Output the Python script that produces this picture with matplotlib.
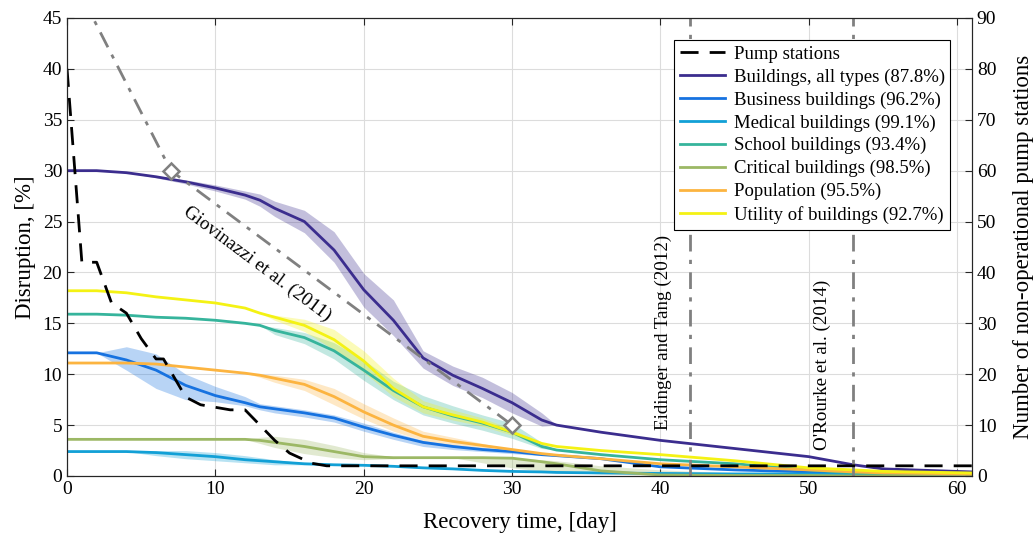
import matplotlib
matplotlib.use("Agg")
import matplotlib.pyplot as plt

plt.rcParams["font.family"] = ["Liberation Serif", "DejaVu Serif"]
plt.rcParams["mathtext.fontset"] = "stix"

# ---- data ----
days = [0, 2, 4, 6, 8, 10, 12, 13, 14, 16, 18, 20, 22, 24, 26, 28, 30, 32, 33,
        36, 40, 45, 50, 53, 55, 61]

bld_all = [30.0, 30.0, 29.8, 29.4, 28.9, 28.3, 27.6, 27.1, 26.3, 25.0, 22.2, 18.3, 15.3,
           11.6, 9.9, 8.6, 7.2, 5.5, 5.0, 4.3, 3.5, 2.7, 1.9, 1.1, 0.7, 0.4]
bld_all_lo = [30.0, 30.0, 29.8, 29.3, 28.7, 28.0, 27.2, 26.5, 25.5, 23.9, 21.0, 16.6, 13.8,
              10.6, 8.9, 7.7, 6.2, 4.9, 5.0, 4.3, 3.5, 2.7, 1.9, 1.1, 0.7, 0.4]
bld_all_hi = [30.0, 30.0, 29.8, 29.5, 29.1, 28.6, 28.0, 27.7, 27.0, 26.1, 24.0, 19.9, 17.3,
              12.3, 10.8, 9.7, 8.2, 6.2, 5.0, 4.3, 3.5, 2.7, 1.9, 1.1, 0.7, 0.4]

business = [12.1, 12.1, 11.4, 10.4, 8.9, 7.9, 7.2, 6.8, 6.6, 6.2, 5.7, 4.8, 4.0,
            3.3, 2.9, 2.6, 2.4, 2.1, 2.0, 1.7, 0.9, 0.6, 0.4, 0.3, 0.2, 0.1]
business_lo = [12.1, 12.1, 10.4, 8.6, 7.5, 7.3, 6.9, 6.5, 6.2, 5.8, 5.3, 4.4, 3.6,
               2.9, 2.6, 2.4, 2.2, 2.0, 2.0, 1.7, 0.9, 0.6, 0.4, 0.3, 0.2, 0.1]
business_hi = [12.1, 12.1, 12.7, 12.0, 10.0, 8.8, 7.8, 7.1, 6.9, 6.5, 6.0, 5.2, 4.3,
               3.5, 3.1, 2.8, 2.6, 2.2, 2.0, 1.7, 0.9, 0.6, 0.4, 0.3, 0.2, 0.1]

medical = [2.4, 2.4, 2.4, 2.3, 2.1, 1.9, 1.6, 1.5, 1.4, 1.2, 1.1, 1.05, 0.95,
           0.8, 0.7, 0.55, 0.45, 0.4, 0.35, 0.3, 0.25, 0.2, 0.2, 0.15, 0.15, 0.1]
medical_lo = [2.4, 2.4, 2.4, 2.0, 1.7, 1.5, 1.3, 1.2, 1.1, 1.1, 1.1, 1.05, 0.95,
              0.8, 0.7, 0.55, 0.45, 0.4, 0.35, 0.3, 0.25, 0.2, 0.2, 0.15, 0.15, 0.1]
medical_hi = [2.4, 2.4, 2.4, 2.5, 2.5, 2.3, 2.0, 1.8, 1.6, 1.3, 1.1, 1.05, 0.95,
              0.8, 0.7, 0.55, 0.45, 0.4, 0.35, 0.3, 0.25, 0.2, 0.2, 0.15, 0.15, 0.1]

school = [15.9, 15.9, 15.8, 15.6, 15.5, 15.3, 15.0, 14.8, 14.3, 13.6, 12.3, 10.4, 8.4,
          6.8, 5.9, 5.2, 4.3, 2.9, 2.55, 2.1, 1.6, 1.2, 0.6, 0.3, 0.2, 0.1]
school_lo = [15.9, 15.9, 15.8, 15.6, 15.5, 15.3, 15.0, 14.8, 13.9, 13.0, 11.5, 9.4, 7.5,
             6.0, 5.2, 4.5, 3.7, 2.7, 2.55, 2.1, 1.6, 1.2, 0.6, 0.3, 0.2, 0.1]
school_hi = [15.9, 15.9, 15.8, 15.6, 15.5, 15.3, 15.0, 14.8, 14.6, 14.1, 13.1, 11.4, 9.3,
             7.9, 6.9, 6.0, 5.2, 3.3, 2.55, 2.1, 1.6, 1.2, 0.6, 0.3, 0.2, 0.1]

critical = [3.6, 3.6, 3.6, 3.6, 3.6, 3.6, 3.6, 3.5, 3.3, 2.9, 2.4, 1.9, 1.8,
            1.8, 1.8, 1.8, 1.75, 1.4, 1.2, 0.5, 0.1, 0.05, 0.05, 0.0, 0.0, 0.0]
critical_lo = [3.6, 3.6, 3.6, 3.6, 3.6, 3.6, 3.6, 3.2, 2.8, 2.2, 1.8, 1.6, 1.7,
               1.8, 1.8, 1.3, 0.8, 0.5, 0.4, 0.2, 0.05, 0.0, 0.0, 0.0, 0.0, 0.0]
critical_hi = [3.6, 3.6, 3.6, 3.6, 3.6, 3.6, 3.6, 3.8, 3.9, 3.6, 3.0, 2.3, 1.9,
               1.8, 1.8, 1.85, 1.8, 1.6, 1.5, 1.0, 0.6, 0.3, 0.1, 0.0, 0.0, 0.0]

population = [11.1, 11.1, 11.1, 11.0, 10.7, 10.4, 10.1, 9.9, 9.6, 9.0, 7.8, 6.3, 5.0,
              3.9, 3.4, 3.0, 2.6, 2.2, 2.05, 1.7, 1.2, 0.9, 0.6, 0.4, 0.3, 0.2]
population_lo = [11.1, 11.1, 11.1, 11.0, 10.7, 10.4, 10.1, 9.7, 9.2, 8.4, 7.0, 5.6, 4.4,
                 3.5, 3.1, 2.8, 2.6, 2.2, 2.05, 1.7, 1.2, 0.9, 0.6, 0.4, 0.3, 0.2]
population_hi = [11.1, 11.1, 11.1, 11.0, 10.7, 10.4, 10.1, 10.0, 9.9, 9.5, 8.6, 7.1, 5.7,
                 4.4, 3.8, 3.2, 2.6, 2.2, 2.05, 1.7, 1.2, 0.9, 0.6, 0.4, 0.3, 0.2]

utility = [18.2, 18.2, 18.0, 17.6, 17.3, 17.0, 16.5, 16.0, 15.6, 14.8, 13.4, 11.3, 8.6,
           6.8, 6.0, 5.3, 4.3, 3.2, 2.9, 2.5, 2.1, 1.5, 0.8, 0.6, 0.45, 0.3]
utility_lo = [18.2, 18.2, 18.0, 17.6, 17.3, 17.0, 16.5, 16.0, 15.3, 14.2, 12.4, 10.2, 7.8,
              6.2, 5.5, 4.9, 4.0, 3.2, 2.9, 2.5, 2.1, 1.5, 0.8, 0.6, 0.45, 0.3]
utility_hi = [18.2, 18.2, 18.0, 17.6, 17.3, 17.0, 16.5, 16.0, 15.8, 15.4, 14.4, 12.3, 9.6,
              7.4, 6.5, 5.7, 4.6, 3.2, 2.9, 2.5, 2.1, 1.5, 0.8, 0.6, 0.45, 0.3]

pump_days = [0, 1, 2, 3, 4, 5, 6, 6.5, 8, 9, 11, 12, 13, 14, 15, 16.5, 17.5, 61]
pump_count = [80, 42, 42, 34, 32, 27, 23, 23, 15.5, 14, 13, 13, 10, 7, 4.5, 2.5, 2, 2]

giov_days = [0, 7, 30]
giov_vals = [50, 30, 5]
ref_days = [42, 53]

series = [
    ("Buildings, all types (87.8%)", bld_all, bld_all_lo, bld_all_hi, "#3b2d8e"),
    ("Business buildings (96.2%)", business, business_lo, business_hi, "#1672e0"),
    ("Medical buildings (99.1%)", medical, medical_lo, medical_hi, "#12a0d6"),
    ("School buildings (93.4%)", school, school_lo, school_hi, "#36b49c"),
    ("Critical buildings (98.5%)", critical, critical_lo, critical_hi, "#9cb865"),
    ("Population (95.5%)", population, population_lo, population_hi, "#fcb440"),
    ("Utility of buildings (92.7%)", utility, utility_lo, utility_hi, "#f4f214"),
]

FS_TICK = 14
FS_LABEL = 16.5
FS_NOTE = 13.7
FS_LEG = 13.5
DASHDOT = (0, (6, 3, 1.5, 3))

fig = plt.figure(figsize=(10.36, 5.37), dpi=100)
ax = fig.add_axes([0.0647, 0.1136, 0.8735, 0.8529])
ax.set_axisbelow(True)
ax.grid(True, color="#dcdcdc", lw=0.8)

# bands first, then lines
for name, vals, lo, hi, col in series:
    ax.fill_between(days, lo, hi, color=col, alpha=0.3, lw=0)
handles = []
for name, vals, lo, hi, col in series:
    h, = ax.plot(days, vals, color=col, lw=2, label=name)
    handles.append(h)

# literature references
ax.plot(giov_days, giov_vals, color="gray", lw=2, ls=DASHDOT,
        marker="D", markevery=[1, 2], ms=8, mfc="white", mec="gray", mew=1.8)
for d in ref_days:
    ax.axvline(d, color="gray", lw=2, ls=DASHDOT)

ax.text(12.8, 20.8, "Giovinazzi et al. (2011)", rotation=-36.8, fontsize=FS_NOTE,
        ha="center", va="center", rotation_mode="anchor")
ax.text(40.2, 4.5, "Eidinger and Tang (2012)", rotation=90, fontsize=FS_NOTE,
        ha="center", va="bottom")
ax.text(50.9, 2.55, "O'Rourke et al. (2014)", rotation=90, fontsize=FS_NOTE,
        ha="center", va="bottom")

ax.set_xlim(0, 61)
ax.set_ylim(0, 45)
ax.set_xticks(range(0, 61, 10))
ax.set_yticks(range(0, 46, 5))
ax.set_xlabel("Recovery time, [day]", fontsize=FS_LABEL, labelpad=10)
ax.set_ylabel("Disruption, [%]", fontsize=FS_LABEL, labelpad=5)
ax.tick_params(direction="in", top=True, right=False, labelsize=FS_TICK, length=5,
               width=0.8, color="#262626")

ax2 = ax.twinx()
pump, = ax2.plot(pump_days, pump_count, color="black", lw=2, ls=(0, (6.5, 4)),
                 label="Pump stations")
ax2.set_ylim(0, 90)
ax2.set_yticks(range(0, 91, 10))
ax2.set_ylabel("Number of non-operational pump stations", fontsize=FS_LABEL, labelpad=12)
ax2.tick_params(direction="in", labelsize=FS_TICK, length=5, width=0.8, color="#262626")

for a in (ax, ax2):
    for s in a.spines.values():
        s.set_color("#262626")
        s.set_linewidth(0.8)

leg = ax2.legend([pump] + handles, [pump.get_label()] + [h.get_label() for h in handles],
                 loc="upper right", bbox_to_anchor=(0.976, 0.952), borderaxespad=0,
                 fontsize=FS_LEG, frameon=True, fancybox=False, framealpha=1,
                 edgecolor="black", handlelength=2.4, labelspacing=0.3,
                 handletextpad=0.45, borderpad=0.3)
leg.get_frame().set_linewidth(0.8)
leg.set_zorder(10)

fig.savefig("out.png", dpi=100)
